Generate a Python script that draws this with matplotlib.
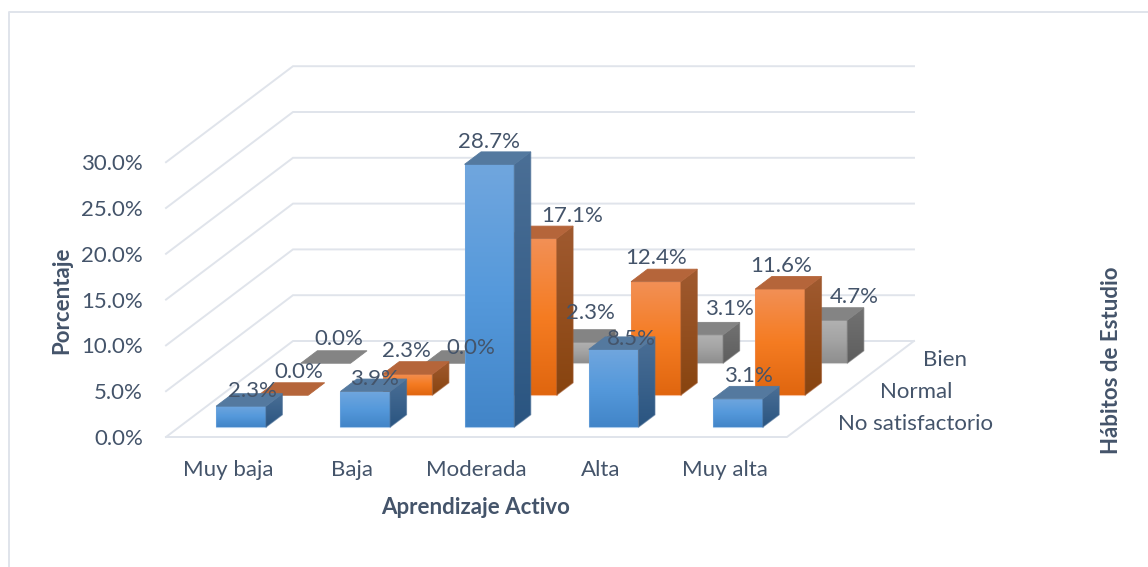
import numpy as np
import matplotlib.pyplot as plt
from matplotlib.patches import Polygon
from matplotlib.colors import LinearSegmentedColormap

plt.rcParams['font.family'] = ['Lato', 'DejaVu Sans']

# data
categories = ['Muy baja', 'Baja', 'Moderada', 'Alta', 'Muy alta']
series_names = ['No satisfactorio', 'Normal', 'Bien']
no_satisfactorio = [2.3, 3.9, 28.7, 8.5, 3.1]
normal = [0.0, 2.3, 17.1, 12.4, 11.6]
bien = [0.0, 0.0, 2.3, 3.1, 4.7]
y_ticks = [0, 5, 10, 15, 20, 25, 30]

all_series = [no_satisfactorio, normal, bien]

# styles, front top/mid/bottom, side top/bottom, roof
styles = [
    (['#70A6DE', '#5599DB', '#4285C8'], ['#4B6F96', '#2A5581'], '#54799F'),
    (['#F29056', '#F57C22', '#E0660F'], ['#A05A30', '#88440F'], '#B5653A'),
    (['#B2B2B2', '#A3A3A3', '#8E8E8E'], ['#727272', '#5E5E5E'], '#848484'),
]

text_col = '#44546A'
grid_col = '#E0E4EB'
fs = 16

# floor corners in pixels
X0, Y0 = 166, 437
DX_CAT = 124.2
DX_DEP, DY_DEP = 42.33, -32.0
PX_PER_PCT = 9.16
BAR_W = 0.40
BAR_D = 0.39


def project(cat, dep, val):
    return (X0 + cat * DX_CAT + dep * DX_DEP,
            Y0 + dep * DY_DEP - val * PX_PER_PCT)


fig = plt.figure(figsize=(11.48, 5.67), dpi=100)
ax = fig.add_axes([0, 0, 1, 1])


def grad_face(pts, colors, z):
    pts = np.array(pts)
    cmap = LinearSegmentedColormap.from_list('f', colors)
    ext = [pts[:, 0].min(), pts[:, 0].max(), pts[:, 1].max(), pts[:, 1].min()]
    im = ax.imshow(np.linspace(0, 1, 128).reshape(-1, 1), cmap=cmap, extent=ext,
                   aspect='auto', zorder=z, interpolation='bilinear')
    poly = Polygon(pts, closed=True, transform=ax.transData, fc='none', ec='none')
    ax.add_patch(poly)
    im.set_clip_path(poly)
    ax.add_patch(Polygon(pts, closed=True, fc='none', ec=colors[0], lw=0.8, alpha=0.6, zorder=z))


def draw_bar(c, s, val, z):
    x0, x1 = c + 0.5 - BAR_W / 2, c + 0.5 + BAR_W / 2
    d0, d1 = s + 0.5 - BAR_D / 2, s + 0.5 + BAR_D / 2
    front, side, roof = styles[s]
    if val > 0:
        grad_face([project(x0, d0, val), project(x1, d0, val),
                   project(x1, d0, 0), project(x0, d0, 0)], front, z)
        grad_face([project(x1, d0, val), project(x1, d1, val),
                   project(x1, d1, 0), project(x1, d0, 0)], side, z)
    ax.add_patch(Polygon([project(x0, d0, val), project(x1, d0, val),
                          project(x1, d1, val), project(x0, d1, val)],
                         closed=True, fc=roof, ec=roof, lw=0.6, zorder=z))


# walls and floor
for v in y_ticks:
    a = project(0, 0, v)
    b = project(0, 3, v)
    c = project(5, 3, v)
    ax.plot([a[0], b[0], c[0]], [a[1], b[1], c[1]], color=grid_col, lw=1.4,
            solid_joinstyle='miter', zorder=1)
    ax.text(143, a[1] + 2, '%.1f%%' % v, ha='right', va='center', color=text_col, fontsize=fs, zorder=20)

fl = [project(0, 0, 0), project(5, 0, 0), project(5, 3, 0)]
ax.plot([p[0] for p in fl], [p[1] for p in fl], color=grid_col, lw=1.4, zorder=1)

# back row first so the front ones cover it
for s in [2, 1, 0]:
    for c, val in enumerate(all_series[s]):
        draw_bar(c, s, val, 5 + (2 - s))

# data labels sit a bit off the roof, excel moved them per bar
label_off = [
    [(3, -9), (1, -6), (-9, -16), (10, -4), (2, -17)],
    [(7, -17), (-9, -17), (32, -16), (-8, -17), (-7, -17)],
    [(5, -18), (13, -9), (8, -23), (23, -20), (24, -17)],
]
for s, vals in enumerate(all_series):
    for c, val in enumerate(vals):
        px, py = project(c + 0.5, s + 0.5, val)
        dx, dy = label_off[s][c]
        ax.text(px + dx, py + dy, '%.1f%%' % val, ha='center', va='center',
                color=text_col, fontsize=fs, zorder=20)

for c, name in enumerate(categories):
    px, _ = project(c + 0.5, 0, 0)
    ax.text(px, 470, name, ha='center', va='center', color=text_col, fontsize=fs)

for s, name in enumerate(series_names):
    px, py = project(5, s + 0.5, 0)
    ax.text(px + 30, py + 3, name, ha='left', va='center', color=text_col, fontsize=fs)

ax.text(476, 507, 'Aprendizaje Activo', ha='center', va='center', color=text_col,
        fontsize=fs, fontweight='bold')
ax.text(62, 300, 'Porcentaje', ha='center', va='center', rotation=90, color=text_col,
        fontsize=fs, fontweight='bold')
ax.text(1111, 360, 'Hábitos de Estudio', ha='center', va='center', rotation=90, color=text_col,
        fontsize=fs, fontweight='bold')

# chart border
ax.plot([9, 9, 1148], [567, 12, 12], color=grid_col, lw=1.4)

ax.set_xlim(0, 1148)
ax.set_ylim(567, 0)
ax.axis('off')

fig.savefig('out.png', dpi=100)
